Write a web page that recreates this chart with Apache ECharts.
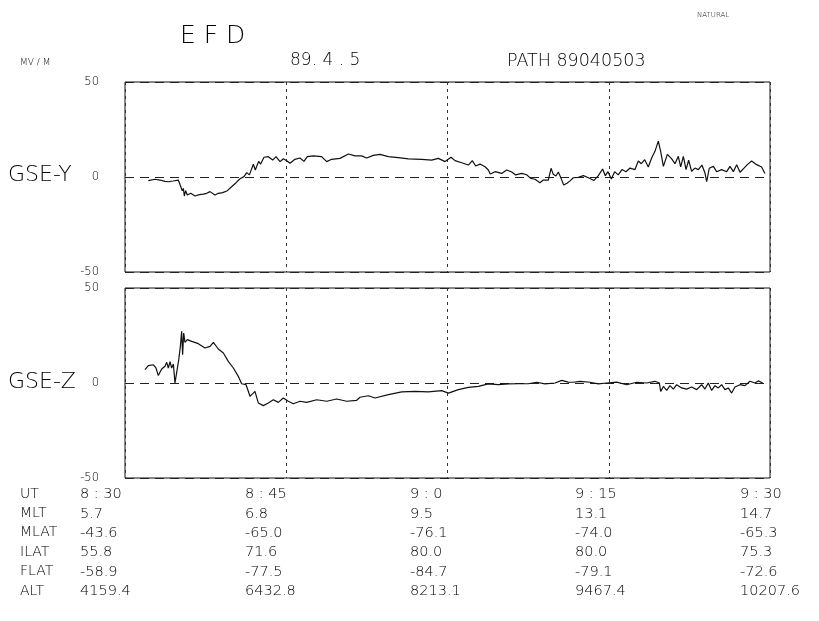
<!DOCTYPE html>
<html><head><meta charset="utf-8">
<script src="https://cdn.jsdelivr.net/npm/echarts@6/dist/echarts.min.js"></script>
<style>html,body{margin:0;padding:0;background:#fff}#c{width:819px;height:621px}</style>
</head><body><div id="c"></div>
<script>
// time in minutes after 8:30 UT
const tY = [2.17,2.79,3.26,3.72,4.03,4.49,4.96,5.12,5.33,5.43,5.52,5.64,5.80,6.11,6.51,6.91,7.29,7.60,7.91,8.37,8.68,9.09,9.52,9.92,10.33,10.70,11.07,11.32,11.57,11.94,12.12,12.43,12.62,12.93,13.33,13.74,14.05,14.42,14.73,15.04,15.35,15.81,16.28,16.65,16.96,17.52,18.29,18.76,19.22,20.00,20.78,21.40,22.02,22.48,23.10,23.72,24.50,25.43,26.36,27.60,28.53,29.15,29.77,30.33,30.70,31.32,31.94,32.31,32.62,33.02,33.49,33.80,33.98,34.42,35.04,35.50,35.97,36.34,36.90,37.36,37.74,38.14,38.60,38.91,39.38,39.63,39.84,40.09,40.31,40.53,40.81,41.12,41.43,41.70,42.17,42.64,43.11,43.63,44.03,44.43,44.68,44.93,45.24,45.55,45.88,46.23,46.60,46.98,47.44,47.75,48.03,48.34,48.68,48.99,49.30,49.61,49.83,50.08,50.45,50.82,51.16,51.47,51.69,51.94,52.19,52.43,52.71,53.02,53.33,53.67,53.95,54.11,54.35,54.73,55.04,55.50,55.97,56.28,56.59,56.90,57.21,57.58,57.89,58.29,58.76,59.22,59.53];
const vY = [-1.9,-1.2,-1.6,-2.3,-2.5,-2.1,-1.6,-2.6,-7.2,-6.0,-10.0,-7.2,-9.5,-8.6,-10.0,-9.3,-9.0,-8.6,-7.7,-9.5,-8.6,-8.2,-7.2,-5.1,-3.0,-0.9,0.2,2.3,1.1,6.7,3.7,8.2,6.8,10.4,10.7,8.9,10.7,8.1,9.6,8.6,7.2,9.3,10.0,8.2,10.7,11.1,10.7,8.1,9.3,9.8,12.1,11.1,11.1,10.0,11.4,11.9,10.7,10.2,9.5,9.3,8.9,9.8,8.1,10.4,8.6,7.5,6.3,8.6,5.8,6.8,5.4,3.7,1.6,2.8,1.9,3.7,2.6,1.1,1.9,1.2,-0.7,-1.2,-3.0,-1.6,-1.6,4.6,1.4,0.5,2.6,-0.2,-4.2,-3.3,-1.9,-0.4,-0.2,0.7,-0.4,-1.8,0.7,4.2,0.7,2.8,-1.1,2.8,1.1,3.9,2.8,4.7,3.9,8.4,7.0,9.1,5.3,10.0,13.5,18.9,13.5,5.6,11.9,9.8,7.0,10.9,5.3,10.9,3.9,8.8,3.0,4.7,3.9,6.3,2.1,-2.5,4.6,5.6,2.8,3.9,2.8,5.6,2.8,6.5,2.5,4.7,6.5,8.4,6.5,5.3,1.8];
const tZ = [1.86,2.17,2.64,2.88,3.10,3.41,3.72,3.88,4.03,4.19,4.34,4.50,4.65,4.81,5.00,5.15,5.27,5.36,5.46,5.58,5.80,6.20,6.82,7.44,7.91,8.22,8.68,9.15,9.61,10.08,10.54,10.85,11.26,11.63,12.09,12.40,12.87,13.33,13.80,14.26,14.73,15.19,15.66,16.28,16.90,17.83,18.76,19.69,20.62,21.55,21.86,22.64,23.26,24.50,25.74,26.98,28.22,29.46,30.08,31.01,31.94,32.87,33.80,34.73,35.66,36.59,37.52,38.29,39.07,40.00,40.62,41.24,41.70,42.33,43.26,44.03,44.81,45.74,46.67,47.60,48.53,49.30,49.71,49.83,50.08,50.39,50.70,51.01,51.32,51.78,52.25,52.71,53.18,53.64,53.95,54.26,54.57,54.88,55.19,55.50,55.81,56.12,56.43,56.74,57.21,57.67,58.14,58.60,58.91,59.32];
const vZ = [7.0,9.1,9.6,7.9,3.9,7.4,8.8,10.9,7.9,11.2,7.9,10.0,0,0,12.3,19.3,27.2,14.9,26.3,21.4,22.8,21.9,20.7,18.4,19.3,21.4,17.9,15.8,11.4,7.9,3.5,-0.4,-0.9,-7.0,-4.4,-10.5,-11.9,-10.5,-8.8,-10.2,-7.9,-9.6,-10.9,-9.6,-10.2,-8.8,-9.6,-8.4,-9.6,-9.1,-7.5,-6.7,-7.9,-6.1,-4.7,-4.4,-4.7,-4.0,-5.3,-3.5,-2.3,-1.8,-0.5,-0.9,-0.5,-0.4,-0.4,0.4,-0.5,0,1.4,0.5,0.4,0.9,0.4,-0.5,0,0.5,-0.9,0.4,0,0.9,0,-4.4,-1.8,-3.9,-1.4,-3.2,-0.9,-2.6,-3.2,-2.1,-3.5,-0.9,-3.2,0,-3.9,-1.4,-2.6,-0.9,-3.5,-2.6,-5.3,-2.1,-0.9,-1.4,0.9,0,1.1,0];

const rowNames = ['UT','MLT','MLAT','ILAT','FLAT','ALT'];
const utLabels = ['8 : 30','8 : 45','9 : 0','9 : 15','9 : 30'];
const mltVals  = ['5.7','6.8','9.5','13.1','14.7'];
const mlatVals = ['-43.6','-65.0','-76.1','-74.0','-65.3'];
const ilatVals = ['55.8','71.6','80.0','80.0','75.3'];
const flatVals = ['-58.9','-77.5','-84.7','-79.1','-72.6'];
const altVals  = ['4159.4','6432.8','8213.1','9467.4','10207.6'];
const panelNames = ['GSE-Y','GSE-Z'];
const yMin = -50, yMax = 50, yStep = 50;
const xMin = 0, xMax = 60, xStep = 15;

const FONT = 'DejaVu Sans';
const INK = '#000';
const chart = echarts.init(document.getElementById('c'), null, {renderer:'canvas'});

function xAxisCfg(i){
  return {gridIndex:i, type:'value', min:xMin, max:xMax, interval:xStep,
    axisLine:{show:false}, axisTick:{show:false}, axisLabel:{show:false},
    splitLine:{show:true, lineStyle:{color:'#333', width:1, type:[3,4]}}};
}
function yAxisCfg(i){
  return {gridIndex:i, type:'value', min:yMin, max:yMax, interval:yStep,
    axisLine:{show:false}, axisTick:{show:false},
    axisLabel:{show:true, color:INK, fontSize:11.5, fontFamily:FONT, fontWeight:200, margin:26},
    splitLine:{show:true, lineStyle:{color:'#222', width:1, type:[9,6]}}};
}
const tableRows = [utLabels, mltVals, mlatVals, ilatVals, flatVals, altVals];
const graphics = [];
function txt(x, y, s, size){
  graphics.push({type:'text', left:x, top:y, silent:true,
    style:{text:s, fill:INK, font:'200 '+size+'px "'+FONT+'"'}});
}
txt(180, 24, 'E F D', 25);
txt(697, 12, 'NATURAL', 7);
txt(20, 58, 'MV / M', 9);
txt(290, 52, '89. 4 . 5', 17);
txt(507, 52, 'PATH 89040503', 17.5);
txt(8, 164, panelNames[0], 22);
txt(8, 371, panelNames[1], 22);
rowNames.forEach((r, ri) => {
  const y = 487 + ri*19.4;
  txt(20, y, r, 14);
  tableRows[ri].forEach((s, ci) => txt(80 + ci*165, y, s, 14.5));
});

chart.setOption({
  backgroundColor:'#fff',
  animation:false,
  grid:[
    {left:125, top:82, width:645, height:190, show:true, borderColor:'#111', borderWidth:1, backgroundColor:'transparent'},
    {left:125, top:288, width:645, height:190, show:true, borderColor:'#111', borderWidth:1, backgroundColor:'transparent'}
  ],
  xAxis:[xAxisCfg(0), xAxisCfg(1)],
  yAxis:[yAxisCfg(0), yAxisCfg(1)],
  series:[
    {type:'line', xAxisIndex:0, yAxisIndex:0, showSymbol:false, symbol:'none',
     lineStyle:{color:'#111', width:1.2}, data:tY.map((t,i)=>[t, vY[i]])},
    {type:'line', xAxisIndex:1, yAxisIndex:1, showSymbol:false, symbol:'none',
     lineStyle:{color:'#111', width:1.2}, data:tZ.map((t,i)=>[t, vZ[i]])}
  ],
  graphic:graphics
});
</script></body></html>
